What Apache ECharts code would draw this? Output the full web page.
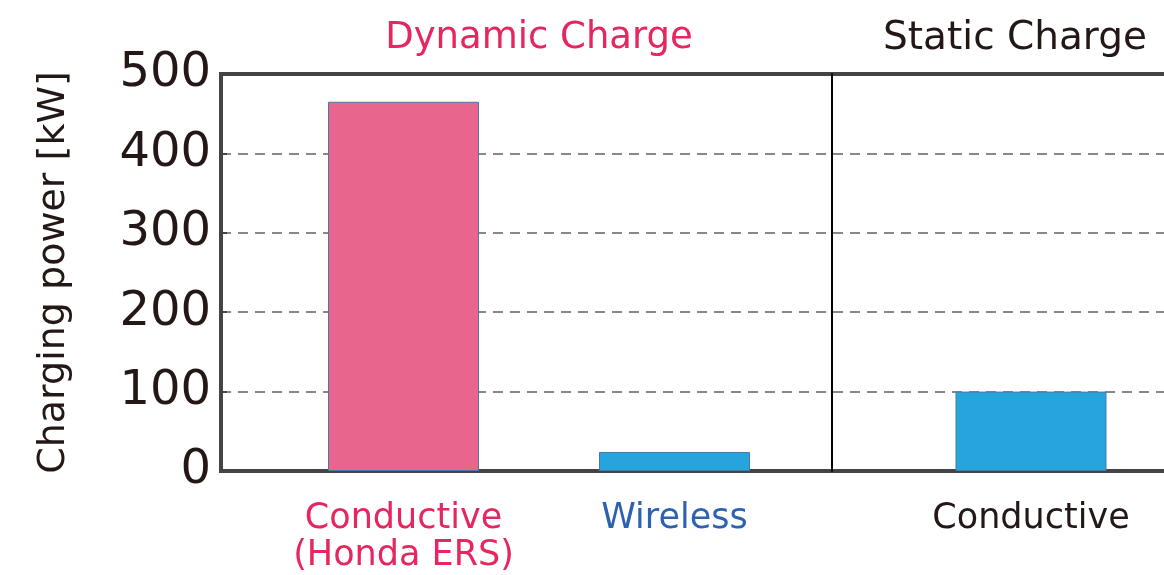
<!DOCTYPE html>
<html>
<head>
<meta charset="utf-8">
<script src="https://cdn.jsdelivr.net/npm/echarts@6/dist/echarts.min.js"></script>
<style>
  html, body { margin: 0; padding: 0; background: #fff; }
  #chart { width: 1164px; height: 575px; }
</style>
</head>
<body>
<div id="chart"></div>
<script>
// data
var dynamicCategories = ['Conductive\n(Honda ERS)', 'Wireless'];
var dynamicValues = [465, 24];
var dynamicColors = ['#E8668E', '#25A4DD'];
var dynamicLabelColors = ['#E6265E', '#2C62B0'];
var staticCategories = ['Conductive'];
var staticValues = [100];
var groupTitles = ['Dynamic Charge', 'Static Charge'];

var font = 'DejaVu Sans';
var gridTop = 74, gridBottom = 104;

var chart = echarts.init(document.getElementById('chart'));

var option = {
  animation: false,
  title: [
    { text: groupTitles[0], left: 534, top: 15, textAlign: 'center',
      textStyle: { fontFamily: font, fontSize: 37, fontWeight: 'normal', color: '#E6265E' } },
    { text: groupTitles[1], left: 1010, top: 14, textAlign: 'center',
      textStyle: { fontFamily: font, fontSize: 39, fontWeight: 'normal', color: '#231815' } }
  ],
  grid: [
    // frame
    { left: 221, right: -30, top: gridTop, bottom: gridBottom, show: true, outerBoundsMode: 'none',
      borderColor: '#444', borderWidth: 4, backgroundColor: 'transparent' },
    // dynamic charge bars
    { left: 268, width: 542, top: gridTop, bottom: gridBottom, outerBoundsMode: 'none' },
    // static charge bars
    { left: 832, width: 398, top: gridTop, bottom: gridBottom, outerBoundsMode: 'none' }
  ],
  xAxis: [
    { gridIndex: 0, type: 'category', data: [''], show: false },
    { gridIndex: 1, type: 'category', data: dynamicCategories,
      axisLine: { show: false }, axisTick: { show: false },
      axisLabel: { interval: 0, fontFamily: font, fontSize: 35, lineHeight: 37, margin: 29,
        color: function (v, i) { return dynamicLabelColors[i]; } } },
    { gridIndex: 2, type: 'category', data: staticCategories,
      axisLine: { show: false }, axisTick: { show: false },
      axisLabel: { interval: 0, fontFamily: font, fontSize: 35, lineHeight: 37, margin: 29, color: '#231815' } }
  ],
  yAxis: [
    { gridIndex: 0, type: 'value', min: 0, max: 500, interval: 100,
      name: 'Charging power [kW]', nameLocation: 'middle', nameGap: 148,
      nameTextStyle: { fontFamily: font, fontSize: 38, color: '#231815' },
      axisLine: { show: true, lineStyle: { color: '#444', width: 4 } },
      axisTick: { show: true, inside: true, length: 6, lineStyle: { color: '#444', width: 2 } },
      axisLabel: { fontFamily: font, fontSize: 48, color: '#231815', margin: 10 },
      splitLine: { show: true, showMinLine: false, showMaxLine: false,
        lineStyle: { color: '#888', width: 2, type: [10, 7] } } },
    { gridIndex: 1, type: 'value', min: 0, max: 500, show: false },
    { gridIndex: 2, type: 'value', min: 0, max: 500,
      axisLine: { show: true, lineStyle: { color: '#000', width: 2 } },
      axisTick: { show: false }, axisLabel: { show: false }, splitLine: { show: false } }
  ],
  series: [
    { type: 'bar', xAxisIndex: 1, yAxisIndex: 1, barWidth: 151,
      data: dynamicValues.map(function (v, i) {
        return { value: v, itemStyle: { color: dynamicColors[i] } };
      }),
      itemStyle: { borderColor: '#4A78A8', borderWidth: 1 } },
    { type: 'bar', xAxisIndex: 2, yAxisIndex: 2, barWidth: 151,
      data: staticValues,
      itemStyle: { color: '#25A4DD', borderColor: '#4A78A8', borderWidth: 1 } }
  ]
};

chart.setOption(option);
</script>
</body>
</html>
